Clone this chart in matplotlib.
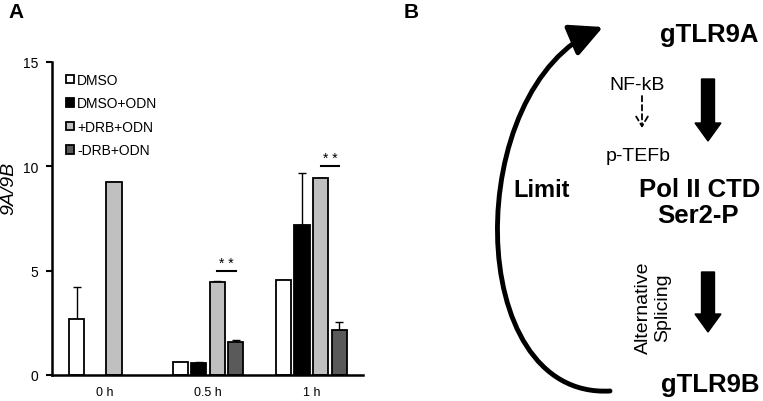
import numpy as np
import matplotlib
matplotlib.use("Agg")
import matplotlib.pyplot as plt
from matplotlib.path import Path
from matplotlib.patches import FancyArrowPatch

plt.rcParams["font.family"] = ["Liberation Sans", "DejaVu Sans"]

TIMES = ["0 h", "0.5 h", "1 h"]
SERIES = ["DMSO", "DMSO+ODN", "+DRB+ODN", "-DRB+ODN"]
COLORS = ["white", "black", "#c0c0c0", "#5a5a5a"]

DMSO = [2.68, 0.62, 4.55]
DMSO_ODN = [np.nan, 0.58, 7.18]
PLUS_DRB = [9.23, 4.45, 9.45]
MINUS_DRB = [np.nan, 1.57, 2.15]

DMSO_ERR = [1.53, 0.0, 0.0]
DMSO_ODN_ERR = [np.nan, 0.03, 2.48]
PLUS_DRB_ERR = [0.0, 0.05, 0.0]
MINUS_DRB_ERR = [np.nan, 0.11, 0.38]

# significance: (group, series a, series b, height)
SIGNIF = [(1, 2, 3, 5.0), (2, 2, 3, 10.0)]

values = [DMSO, DMSO_ODN, PLUS_DRB, MINUS_DRB]
errors = [DMSO_ERR, DMSO_ODN_ERR, PLUS_DRB_ERR, MINUS_DRB_ERR]

fig = plt.figure(figsize=(7.63, 4.02), dpi=100)

# ---- panel A ----
ax = fig.add_axes([52 / 763, 26 / 402, 311 / 763, 313 / 402])

x = np.arange(len(TIMES))
step = 0.18
width = 0.146

for i, (name, vals, errs, col) in enumerate(zip(SERIES, values, errors, COLORS)):
    pos = x + (i - 1.5) * step
    ax.bar(pos, vals, width, color=col, edgecolor="black", linewidth=1.3,
           label=name, zorder=2)
    err = np.array(errs)
    ax.errorbar(pos, vals, yerr=[np.zeros_like(err), err], fmt="none",
                ecolor="black", elinewidth=1.0, capsize=3, capthick=1.0,
                zorder=1)

for g, a, b, h in SIGNIF:
    xa = g + (a - 1.5) * step
    xb = g + (b - 1.5) * step
    ax.plot([xa, xb], [h, h], color="black", lw=1.5)
    ax.text((xa + xb) / 2, h + 0.05, "* *", ha="center", va="bottom",
            fontsize=10)

ax.set_xlim(-0.51, 2.5)
ax.set_ylim(0, 15)
ax.set_yticks([0, 5, 10, 15])
ax.set_xticks(x)
ax.set_xticklabels(TIMES, fontsize=9)
ax.tick_params(axis="x", length=0, pad=8)
ax.tick_params(axis="y", direction="out", length=4, width=1.5, labelsize=10,
               pad=6)
for side in ["top", "right"]:
    ax.spines[side].set_visible(False)
for side in ["left", "bottom"]:
    ax.spines[side].set_linewidth(1.8)

ax.set_ylabel("9A/9B", fontsize=14, style="italic")
ax.yaxis.set_label_coords(-0.112, 0.60)

ax.legend(loc="upper left", bbox_to_anchor=(0.045, 0.965), frameon=False,
          fontsize=10, handlelength=0.6, handleheight=0.6,
          handletextpad=0.2, labelspacing=0.68, borderpad=0,
          borderaxespad=0)

fig.text(16 / 763, 1 - 12 / 402, "A", fontsize=15, fontweight="bold",
         ha="center", va="center")
fig.text(411 / 763, 1 - 12 / 402, "B", fontsize=15, fontweight="bold",
         ha="center", va="center")

# ---- panel B (diagram, pixel coordinates) ----
bx = fig.add_axes([380 / 763, 0, 383 / 763, 1])
bx.set_xlim(380, 763)
bx.set_ylim(402, 0)
bx.axis("off")

bold = dict(fontsize=18.5, fontweight="bold", ha="center", va="center")
bx.text(709, 35, "gTLR9A", **bold)
bx.text(700, 190, "Pol II CTD", **bold)
bx.text(698, 216, "Ser2-P", **bold)
bx.text(710, 385, "gTLR9B", **bold)
bx.text(542, 191, "Limit", fontsize=17, fontweight="bold", ha="center",
        va="center")

bx.text(637, 86, "NF-kB", fontsize=14, ha="center", va="center")
bx.text(638, 157, "p-TEFb", fontsize=14, ha="center", va="center")
bx.text(653, 308, "Alternative\nSplicing", fontsize=14, rotation=90,
        ha="center", va="center", linespacing=1.15)

bx.annotate("", xy=(642, 129), xytext=(642, 97),
            arrowprops=dict(arrowstyle="->,head_length=0.5,head_width=0.3",
                            mutation_scale=14, lw=1.3,
                            linestyle=(0, (3, 2)), shrinkA=0, shrinkB=0))

bx.arrow(708, 80, 0, 62, width=13, head_width=26, head_length=18,
         length_includes_head=True, fc="black", ec="black")
bx.arrow(708, 273, 0, 60, width=13, head_width=26, head_length=18,
         length_includes_head=True, fc="black", ec="black")

curve = Path([(610, 392), (462, 400), (462, 88), (603, 28)],
             [Path.MOVETO, Path.CURVE4, Path.CURVE4, Path.CURVE4])
bx.add_patch(FancyArrowPatch(path=curve,
                             arrowstyle="-|>,head_length=1.0,head_width=0.5",
                             mutation_scale=20, lw=3.5, color="black",
                             shrinkA=0, shrinkB=0))

fig.savefig("out.png", dpi=100)
